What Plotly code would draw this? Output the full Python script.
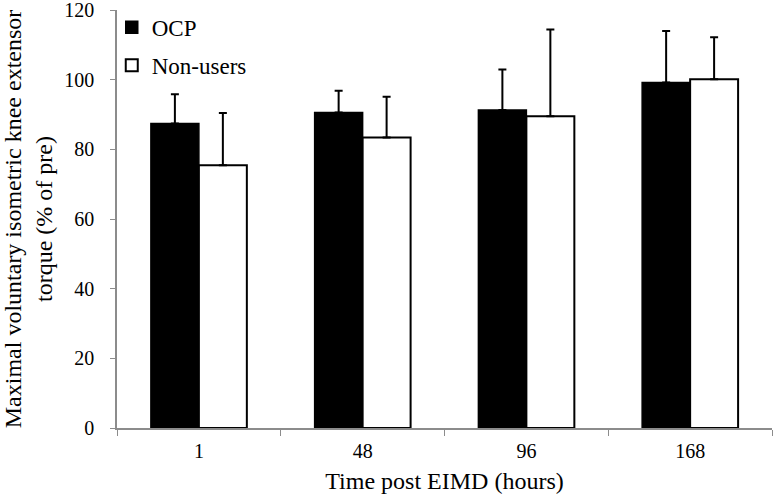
import plotly.graph_objects as go

categories = ["1", "48", "96", "168"]
ocp_values = [87.4, 90.6, 91.3, 99.2]
ocp_err = [8.4, 6.2, 11.6, 14.8]
non_values = [75.4, 83.4, 89.5, 100.1]
non_err = [15.0, 11.7, 24.9, 12.1]

FAM = "Liberation Serif"
tick_font = dict(family=FAM, size=20, color="black")
title_font = dict(family=FAM, size=24, color="black")
legend_font = dict(family=FAM, size=23, color="black")

fig = go.Figure()
fig.add_trace(go.Bar(
    x=categories, y=ocp_values, name="OCP", legendgroup="a",
    marker=dict(color="black", line=dict(color="black", width=1.5)),
    error_y=dict(type="data", array=ocp_err, arrayminus=[0]*4, symmetric=False,
                 color="black", thickness=2, width=4),
))
fig.add_trace(go.Bar(
    x=categories, y=non_values, name="Non-users", legendgroup="b",
    marker=dict(color="white", line=dict(color="black", width=2)),
    error_y=dict(type="data", array=non_err, arrayminus=[0]*4, symmetric=False,
                 color="black", thickness=2, width=4),
))

fig.update_layout(
    width=774, height=501,
    margin=dict(l=117, r=2, t=10, b=73),
    paper_bgcolor="white", plot_bgcolor="white",
    font=title_font,
    barmode="group", bargap=0.414, bargroupgap=0,
    showlegend=True,
    legend=dict(x=-0.008, y=1.01, xanchor="left", yanchor="top",
                font=legend_font, bgcolor="rgba(0,0,0,0)",
                tracegroupgap=5),
    xaxis=dict(
        title=dict(text="Time post EIMD (hours)", font=title_font, standoff=11),
        automargin=False,
        showline=True, linecolor="#8c8c8c", linewidth=1.5,
        ticks="outside", tickson="boundaries", ticklen=6, tickcolor="#8c8c8c",
        showgrid=False, tickfont=tick_font, ticklabelstandoff=4,
    ),
    yaxis=dict(
        title=dict(text="Maximal voluntary isometric knee extensor<br>torque (% of pre)",
                   font=title_font, standoff=14),
        automargin=False,
        range=[0, 120], dtick=20,
        showline=True, linecolor="#8c8c8c", linewidth=1.5,
        ticks="outside", ticklen=5, tickcolor="#8c8c8c",
        showgrid=False, zeroline=False, tickfont=tick_font,
        ticklabeloverflow="allow", ticklabelstandoff=12,
    ),
)

fig.write_html("out.html", config={"displayModeBar": False},
               post_script="document.body.style.margin='0px';")
